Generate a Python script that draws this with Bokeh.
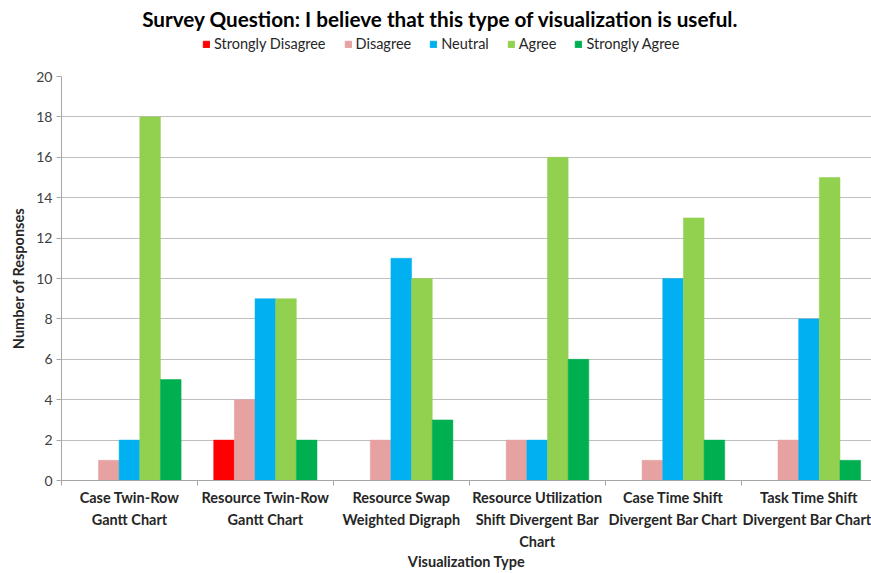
from bokeh.plotting import figure
from bokeh.layouts import column
from bokeh.models import Range1d, FixedTicker, Legend, LegendItem, LinearAxis
from bokeh.core.properties import value
from bokeh.embed import file_html
from bokeh.resources import INLINE

# Survey results per visualization type
category_lines = [
    ["Case Twin-Row", "Gantt Chart"],
    ["Resource Twin-Row", "Gantt Chart"],
    ["Resource Swap", "Weighted Digraph"],
    ["Resource Utilization", "Shift Divergent Bar", "Chart"],
    ["Case Time Shift", "Divergent Bar Chart"],
    ["Task Time Shift", "Divergent Bar Chart"],
]
series_names = ["Strongly Disagree", "Disagree", "Neutral", "Agree", "Strongly Agree"]
strongly_disagree = [0, 2, 0, 0, 0, 0]
disagree = [1, 4, 2, 2, 1, 2]
neutral = [2, 9, 11, 2, 10, 8]
agree = [18, 9, 10, 16, 13, 15]
strongly_agree = [5, 2, 3, 6, 2, 1]
y_ticks = list(range(0, 21, 2))
title_text = "Survey Question: I believe that this type of visualization is useful."

series_values = [strongly_disagree, disagree, neutral, agree, strongly_agree]
colors = ["#FF0000", "#E6A1A1", "#00B0F0", "#92D050", "#00B050"]

FONT = "Lato"
TXT = "#262626"
AXIS_GRAY = "#A6A6A6"
n = len(category_lines)
centers = [i + 0.5 for i in range(n)]
bar_w = 0.152
LEFT, FRAME_W = 61, 810

# ---------- header: title + legend (frame aligned with the chart below) ----------
head = figure(
    frame_width=FRAME_W, frame_height=60,
    x_range=Range1d(LEFT, LEFT + FRAME_W), y_range=Range1d(0, 60),
    x_axis_type=None, y_axis_type=None,
    output_backend="svg", toolbar_location=None,
    min_border_left=LEFT, min_border_right=0, min_border_top=0, min_border_bottom=0,
)
head.outline_line_color = None
head.grid.visible = False
head.text(x=[440], y=[42], text=[title_text],
          text_font=value(FONT), text_font_style="bold", text_font_size="20.7px",
          text_color="black", text_align="center", text_baseline="middle")

# hidden copies of the series, used only as legend keys
key_renderers = []
for k, (vals, col) in enumerate(zip(series_values, colors)):
    r = head.vbar(x=centers, top=vals, width=bar_w, fill_color=col, line_color=col)
    r.visible = False
    key_renderers.append(r)

legend = Legend(
    items=[LegendItem(label=nm, renderers=[r]) for nm, r in zip(series_names, key_renderers)],
    orientation="horizontal",
    location=(202 - LEFT, 8),
    glyph_width=8, glyph_height=8,
    label_standoff=4, spacing=18,
    label_text_font=FONT, label_text_font_size="14.5px", label_text_color=TXT,
    label_height=16, label_text_baseline="middle",
    inactive_fill_alpha=0,
    background_fill_alpha=0, border_line_color=None,
    padding=0, margin=0,
)
head.add_layout(legend, "center")

# ---------- main bar chart ----------
p = figure(
    frame_width=FRAME_W, frame_height=404,
    x_range=Range1d(0, 5.96), y_range=Range1d(0, 20),
    output_backend="svg", toolbar_location=None,
    min_border_left=LEFT, min_border_right=0,
    min_border_top=16, min_border_bottom=93,
)
p.outline_line_color = None

for k, (vals, col) in enumerate(zip(series_values, colors)):
    xs = [c + (k - 2) * bar_w for c in centers]
    p.vbar(x=xs, top=vals, width=bar_w, bottom=0,
           fill_color=col, line_color=col, line_width=0.5)

# category labels: one stacked axis per text line
def line_labels(i):
    return {c: (lines[i] if i < len(lines) else "") for c, lines in zip(centers, category_lines)}

def style_labels(ax, standoff):
    ax.major_label_text_font = FONT
    ax.major_label_text_font_style = "bold"
    ax.major_label_text_font_size = "14.5px"
    ax.major_label_text_color = TXT
    ax.major_label_standoff = standoff
    ax.major_label_orientation = "horizontal"

xa = p.xaxis[0]
xa.ticker = FixedTicker(ticks=centers, minor_ticks=list(range(0, n + 1)))
xa.major_label_overrides = line_labels(0)
xa.major_tick_line_color = None
xa.major_tick_in = 0
xa.major_tick_out = 5
xa.minor_tick_line_color = AXIS_GRAY
xa.minor_tick_in = 0
xa.minor_tick_out = 5
xa.axis_line_color = AXIS_GRAY
style_labels(xa, 3)

max_lines = max(len(l) for l in category_lines)
extra_standoffs = [2, 2]
for i in range(1, max_lines):
    ax = LinearAxis(ticker=FixedTicker(ticks=centers, minor_ticks=[]))
    ax.major_label_overrides = line_labels(i)
    ax.axis_line_color = None
    ax.major_tick_line_color = None
    ax.minor_tick_line_color = None
    ax.major_tick_in = 0
    ax.major_tick_out = 0
    ax.minor_tick_in = 0
    ax.minor_tick_out = 0
    style_labels(ax, extra_standoffs[i - 1])
    if i == max_lines - 1:
        ax.axis_label = "Visualization Type"
        ax.axis_label_text_font = FONT
        ax.axis_label_text_font_style = "bold"
        ax.axis_label_text_font_size = "14.5px"
        ax.axis_label_text_color = TXT
        ax.axis_label_standoff = 0
    p.add_layout(ax, "below")

ya = p.yaxis[0]
ya.ticker = FixedTicker(ticks=y_ticks)
ya.minor_tick_line_color = None
ya.major_tick_line_color = AXIS_GRAY
ya.major_tick_in = 0
ya.major_tick_out = 5
ya.axis_line_color = AXIS_GRAY
ya.major_label_text_font = FONT
ya.major_label_text_font_size = "14px"
ya.major_label_text_color = "#404040"
ya.major_label_standoff = 4
ya.axis_label = "Number of Responses"
ya.axis_label_text_font = FONT
ya.axis_label_text_font_style = "bold"
ya.axis_label_text_font_size = "14.5px"
ya.axis_label_text_color = TXT
ya.axis_label_standoff = 6

p.xgrid.grid_line_color = None
p.ygrid.ticker = FixedTicker(ticks=y_ticks)
p.ygrid.grid_line_color = "#BFBFBF"
p.ygrid.grid_line_width = 1

page = column(head, p, spacing=0)
open("out.html", "w").write(file_html(page, INLINE))
